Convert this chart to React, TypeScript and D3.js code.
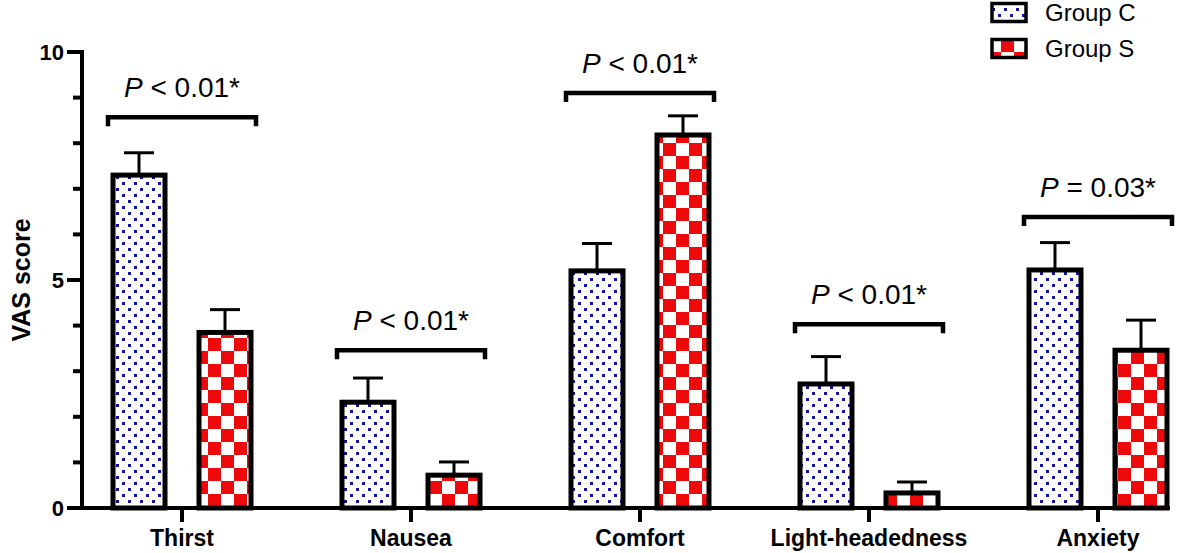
import React, { useEffect, useRef } from 'react';
import * as d3 from 'd3';

const categories = ['Thirst', 'Nausea', 'Comfort', 'Light-headedness', 'Anxiety'];
const groups = ['Group C', 'Group S'];
const groupC = [7.3, 2.32, 5.2, 2.72, 5.22];
const groupCErr = [0.49, 0.53, 0.6, 0.6, 0.6];
const groupS = [3.85, 0.72, 8.18, 0.33, 3.46];
const groupSErr = [0.5, 0.29, 0.42, 0.24, 0.66];
const pRelations = ['<', '<', '<', '<', '='];
const pValues = ['0.01*', '0.01*', '0.01*', '0.01*', '0.03*'];
const bracketLevels = [8.57, 3.46, 9.1, 4.03, 6.38];
const yMajorTicks = [0, 5, 10];
const yMinorTicks = [1, 2, 3, 4, 6, 7, 8, 9];

const FONT = '"Liberation Sans", Arial, sans-serif';

export default function App() {
  const ref = useRef<SVGSVGElement>(null);

  useEffect(() => {
    const svg = d3.select(ref.current);
    svg.selectAll('*').remove();

    const axisX = 82;
    const axisRight = 1170;

    const y = d3.scaleLinear().domain([0, 10]).range([508, 52]);
    const x = d3.scalePoint<string>().domain(categories).range([182, 1098]);
    const sub = d3.scaleBand<string>().domain(groups).range([-86, 86]);
    const barW = 52;

    // patterns
    const defs = svg.append('defs');
    const dots = defs.append('pattern')
      .attr('id', 'dots')
      .attr('patternUnits', 'userSpaceOnUse')
      .attr('width', 12).attr('height', 12);
    dots.append('rect').attr('width', 12).attr('height', 12).attr('fill', '#fff');
    dots.append('rect').attr('x', 2).attr('y', 2).attr('width', 3).attr('height', 3).attr('fill', '#1212a6');
    dots.append('rect').attr('x', 8).attr('y', 8).attr('width', 3).attr('height', 3).attr('fill', '#1212a6');

    const checks = defs.append('pattern')
      .attr('id', 'checks')
      .attr('patternUnits', 'userSpaceOnUse')
      .attr('width', 26).attr('height', 26);
    checks.append('rect').attr('width', 26).attr('height', 26).attr('fill', '#fff');
    checks.append('rect').attr('width', 13).attr('height', 13).attr('fill', '#ee0a0a');
    checks.append('rect').attr('x', 13).attr('y', 13).attr('width', 13).attr('height', 13).attr('fill', '#ee0a0a');

    const fills = ['url(#dots)', 'url(#checks)'];
    const series = [
      { key: groups[0], values: groupC, errs: groupCErr, fill: fills[0] },
      { key: groups[1], values: groupS, errs: groupSErr, fill: fills[1] },
    ];

    // error bars (drawn under bars)
    series.forEach(s => {
      const g = svg.append('g');
      categories.forEach((c, i) => {
        const cx = (x(c) as number) + (sub(s.key) as number) + sub.bandwidth() / 2;
        g.append('line')
          .attr('x1', cx).attr('x2', cx)
          .attr('y1', y(s.values[i])).attr('y2', y(s.values[i] + s.errs[i]))
          .attr('stroke', '#000').attr('stroke-width', 3);
        g.append('line')
          .attr('x1', cx - 15).attr('x2', cx + 15)
          .attr('y1', y(s.values[i] + s.errs[i])).attr('y2', y(s.values[i] + s.errs[i]))
          .attr('stroke', '#000').attr('stroke-width', 3);
      });
    });

    // bars
    series.forEach(s => {
      svg.append('g').selectAll('rect')
        .data(s.values)
        .join('rect')
        .attr('x', (d, i) => (x(categories[i]) as number) + (sub(s.key) as number) + sub.bandwidth() / 2 - barW / 2)
        .attr('y', d => y(d))
        .attr('width', barW)
        .attr('height', d => y(0) - y(d))
        .attr('fill', s.fill)
        .attr('stroke', '#000')
        .attr('stroke-width', 5);
    });

    // x axis
    svg.append('line')
      .attr('x1', axisX - 2).attr('x2', axisRight)
      .attr('y1', y(0)).attr('y2', y(0))
      .attr('stroke', '#000').attr('stroke-width', 4);
    categories.forEach(c => {
      svg.append('line')
        .attr('x1', x(c) as number).attr('x2', x(c) as number)
        .attr('y1', y(0)).attr('y2', y(0) + 14)
        .attr('stroke', '#000').attr('stroke-width', 4);
      svg.append('text')
        .attr('x', x(c) as number).attr('y', 546)
        .attr('text-anchor', 'middle')
        .attr('font-family', FONT).attr('font-weight', 'bold').attr('font-size', 23)
        .text(c);
    });

    // y axis
    svg.append('line')
      .attr('x1', axisX).attr('x2', axisX)
      .attr('y1', y(10) - 2).attr('y2', y(0) + 2)
      .attr('stroke', '#000').attr('stroke-width', 4);
    yMajorTicks.forEach(t => {
      svg.append('line')
        .attr('x1', axisX - 15).attr('x2', axisX)
        .attr('y1', y(t)).attr('y2', y(t))
        .attr('stroke', '#000').attr('stroke-width', 4);
      svg.append('text')
        .attr('x', axisX - 18).attr('y', y(t))
        .attr('dy', '0.36em')
        .attr('text-anchor', 'end')
        .attr('font-family', FONT).attr('font-weight', 'bold').attr('font-size', 22)
        .text(t);
    });
    yMinorTicks.forEach(t => {
      svg.append('line')
        .attr('x1', axisX - 9).attr('x2', axisX)
        .attr('y1', y(t)).attr('y2', y(t))
        .attr('stroke', '#000').attr('stroke-width', 4);
    });
    svg.append('text')
      .attr('transform', `translate(30, ${y(5)}) rotate(-90)`)
      .attr('text-anchor', 'middle')
      .attr('font-family', FONT).attr('font-weight', 'bold').attr('font-size', 25)
      .text('VAS score');

    // significance brackets
    categories.forEach((c, i) => {
      const cx = x(c) as number;
      const by = y(bracketLevels[i]);
      svg.append('path')
        .attr('d', `M${cx - 74},${by + 9}V${by}H${cx + 74}V${by + 9}`)
        .attr('fill', 'none')
        .attr('stroke', '#000').attr('stroke-width', 4.5);
      const t = svg.append('text')
        .attr('x', cx).attr('y', by - 20)
        .attr('text-anchor', 'middle')
        .attr('font-family', FONT).attr('font-size', 28);
      t.append('tspan').attr('font-style', 'italic').text('P');
      t.append('tspan').text(` ${pRelations[i]} ${pValues[i]}`);
    });

    // legend
    groups.forEach((gname, i) => {
      const ly = 2 + i * 36;
      svg.append('rect')
        .attr('x', 992).attr('y', ly + 1.5)
        .attr('width', 34).attr('height', 18)
        .attr('fill', fills[i])
        .attr('stroke', '#000').attr('stroke-width', 3.5);
      svg.append('text')
        .attr('x', 1045).attr('y', ly + 19)
        .attr('font-family', FONT).attr('font-size', 24)
        .text(gname);
    });
  }, []);

  return (
    <svg ref={ref} width={1200} height={553}
      style={{ position: 'absolute', left: 0, top: 0, background: '#fff' }} />
  );
}
